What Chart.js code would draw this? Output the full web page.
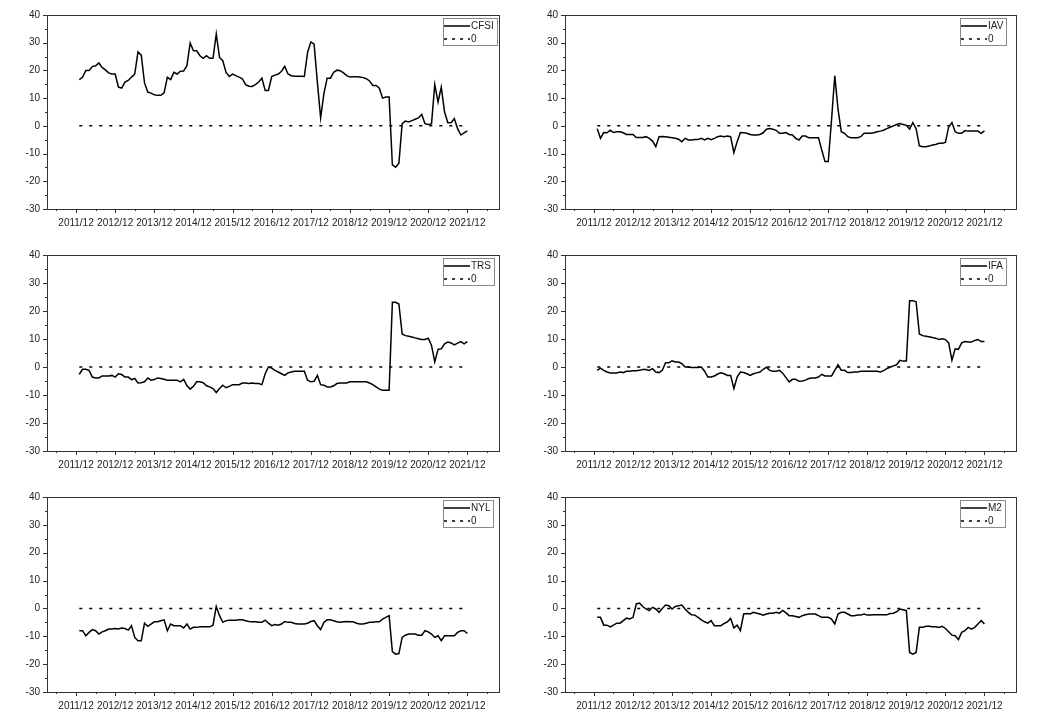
<!DOCTYPE html>
<html>
<head>
<meta charset="utf-8">
<script src="https://cdn.jsdelivr.net/npm/chart.js@4.4.1/dist/chart.umd.min.js"></script>
<style>
  body { margin: 0; background: #fff; }
  canvas { position: absolute; }
</style>
</head>
<body>
<canvas id="p0"></canvas>
<canvas id="p1"></canvas>
<canvas id="p2"></canvas>
<canvas id="p3"></canvas>
<canvas id="p4"></canvas>
<canvas id="p5"></canvas>
<script>
// monthly values, 2012/01 .. 2021/12
const CFSI = [
  16.7, 17.5, 20, 20, 21.4, 21.7, 22.7, 21.1, 20.2, 19.1,
  18.7, 18.7, 14, 13.6, 15.8, 16.4, 17.6, 18.7, 26.7, 25.5,
  15.5, 12.2, 11.8, 11.2, 11, 11, 11.9, 17.5, 16.7, 19.3,
  18.7, 19.7, 19.8, 21.7, 29.9, 27.1, 27.1, 25.3, 24.4, 25.3,
  24.4, 24.4, 33.1, 24.7, 23.5, 19.3, 17.8, 18.7, 18.1, 17.6,
  17, 14.9, 14.3, 14.2, 14.9, 15.8, 17.2, 12.8, 12.8, 17.8,
  18.3, 18.7, 19.7, 21.5, 18.7, 18.1, 17.9, 17.9, 17.9, 17.8,
  26.5, 30.3, 29.5, 15.8, 2.9, 11.6, 17.2, 17.2, 19.3, 20.1,
  19.9, 19.1, 18.1, 17.6, 17.7, 17.7, 17.6, 17.4, 17, 16.2,
  14.6, 14.6, 13.6, 10, 10.4, 10.4, -14.1, -14.9, -13.5, 0.8,
  1.7, 1.4, 1.9, 2.4, 2.9, 4.1, 0.8, 0.5, 0.7, 14.9,
  8.6, 14, 5, 1.1, 1.1, 2.6, -1, -3.3, -2.5, -1.8
];
const IAV = [
  -1, -4.5, -2.4, -2.5, -1.6, -2.4, -2.1, -2.1, -2.5, -3.1,
  -3.1, -3.1, -4.2, -4.2, -4.2, -3.9, -4.5, -5.5, -7.5, -3.9,
  -3.8, -3.9, -4.1, -4.3, -4.5, -4.8, -5.7, -4.5, -5.1, -5.1,
  -4.9, -4.9, -4.5, -5.1, -4.5, -5, -4.5, -3.9, -3.7, -3.9,
  -3.7, -3.9, -9.7, -5.7, -2.4, -2.5, -2.7, -3.1, -3.3, -3.3,
  -3.1, -2.5, -1.2, -1, -1.2, -1.6, -2.7, -2.7, -2.4, -3.1,
  -3.3, -4.5, -5.1, -3.7, -3.7, -4.3, -4.3, -4.3, -4.3, -8.7,
  -12.9, -12.9, 2, 18.1, 6, -2.1, -2.7, -3.9, -4.3, -4.3,
  -4.3, -3.9, -2.7, -2.7, -2.7, -2.5, -2.1, -1.9, -1.6, -1,
  -0.5, 0, 0.5, 0.8, 0.5, 0.2, -1.2, 1.2, -1, -7.2,
  -7.5, -7.5, -7.3, -6.9, -6.7, -6.3, -6.3, -6, -0.4, 1.2,
  -2.1, -2.7, -2.7, -1.7, -1.9, -1.9, -1.9, -1.9, -2.7, -1.8
];
const TRS = [
  -2.6, -0.8, -0.8, -1.2, -3.6, -3.9, -3.9, -3.2, -3.2, -3.2,
  -3, -3.6, -2.4, -2.7, -3.6, -3.6, -4.5, -4.1, -5.7, -5.6,
  -5.3, -3.9, -4.7, -4.5, -3.9, -4.1, -4.4, -4.7, -4.7, -4.7,
  -4.7, -5.3, -4.4, -6.6, -7.9, -6.9, -5.3, -5.3, -5.6, -6.7,
  -7.1, -7.7, -9.1, -7.7, -6.5, -7.4, -6.9, -6.3, -6.3, -6.3,
  -5.7, -5.7, -5.9, -5.7, -5.9, -5.9, -6.3, -2.4, 0, -0.4,
  -1.2, -1.8, -2.4, -3, -2.1, -1.8, -1.5, -1.5, -1.5, -1.5,
  -4.7, -5.3, -5.1, -3, -6.3, -6.5, -7.1, -7.1, -6.7, -5.9,
  -5.7, -5.7, -5.7, -5.3, -5.3, -5.3, -5.3, -5.3, -5.3, -5.7,
  -6.3, -7.1, -7.9, -8.3, -8.3, -8.3, 23.1, 23.1, 22.5, 11.8,
  11.2, 11, 10.7, 10.4, 10.1, 9.8, 9.8, 10.3, 7.7, 1.8,
  6.3, 6.5, 8.3, 8.9, 8.6, 7.9, 8.5, 9.1, 8.3, 9.1
];
const IFA = [
  -1.2, -0.4, -1.2, -1.8, -2.1, -2.1, -2.1, -1.8, -2, -1.5,
  -1.5, -1.3, -1.3, -1.2, -0.9, -0.9, -1.2, -0.6, -1.8, -2,
  -1.2, 1.5, 1.5, 2.2, 1.8, 1.8, 1.2, 0, 0, -0.2,
  -0.2, -0.2, 0, -1.5, -3.6, -3.6, -3.2, -2.5, -2.1, -2.4,
  -3, -3, -7.7, -3.6, -1.8, -2, -2.4, -3, -2.4, -2.1,
  -1.8, -0.8, -0.1, -1.2, -1.5, -1.5, -1.2, -2.2, -3.8, -5.3,
  -4.4, -4.4, -5.1, -5, -4.7, -4.1, -3.9, -3.9, -3.6, -2.6,
  -3.2, -3.2, -3.2, -1.2, 0.8, -1.2, -1.2, -2, -2, -1.8,
  -1.8, -1.5, -1.5, -1.5, -1.5, -1.5, -1.5, -1.8, -1.3, -0.6,
  -0.1, 0.4, 0.8, 2.4, 2.1, 2.1, 23.7, 23.7, 23.3, 11.8,
  11.2, 11, 10.8, 10.5, 10.3, 9.8, 10.1, 9.8, 8.6, 2.4,
  6.5, 6.3, 8.6, 9.1, 8.9, 8.9, 9.5, 9.8, 9.1, 9.1
];
const NYL = [
  -8, -8, -9.8, -8.6, -7.6, -8, -9.2, -8.4, -8, -7.4,
  -7.4, -7.2, -7.4, -7, -7.2, -7.8, -6.2, -10.4, -11.6, -11.6,
  -5.3, -6.4, -5.6, -4.8, -4.8, -4.4, -4.1, -8, -5.6, -6.2,
  -6.2, -6.2, -7, -5.6, -7.4, -6.8, -6.8, -6.6, -6.6, -6.6,
  -6.6, -6, 0.7, -2.6, -5, -4.4, -4.2, -4.2, -4.2, -4.1,
  -4.1, -4.4, -4.7, -4.8, -4.8, -5, -5, -4.2, -5.3, -6.2,
  -5.8, -6, -5.6, -4.7, -5, -5, -5.4, -5.6, -5.6, -5.6,
  -5.3, -4.7, -4.4, -6.2, -7.6, -5, -4.1, -4.1, -4.4, -4.8,
  -5, -4.8, -4.7, -4.8, -4.8, -5.3, -5.6, -5.6, -5.3, -5,
  -5, -4.8, -4.8, -3.8, -3.2, -2.6, -15.5, -16.4, -16.2, -10.4,
  -9.6, -9.2, -9.2, -9.2, -9.6, -9.6, -8, -8.4, -9.2, -10.4,
  -9.8, -11.6, -9.8, -9.8, -9.8, -9.8, -8.6, -8, -8, -9
];
const M2 = [
  -3.2, -3.2, -6, -6, -6.6, -6, -5.3, -5.3, -4.4, -3.5,
  -3.8, -3.2, 1.6, 1.9, 0.7, -0.2, -0.8, 0.4, -0.2, -1.4,
  0, 1.2, 1, -0.2, 0.7, 1, 1.2, -0.2, -1.4, -2.3,
  -2.4, -3.2, -4.1, -4.8, -5.3, -4.4, -6.2, -6.2, -6.2, -5.4,
  -4.8, -3.6, -7, -6, -8, -2, -1.8, -2, -1.4, -1.7,
  -2, -2.4, -2, -1.7, -1.7, -1.4, -1.7, -0.7, -1.6, -2.6,
  -2.6, -2.9, -3.2, -2.6, -2.3, -2, -2, -2, -2.6, -3.2,
  -3.2, -3.2, -3.8, -5.6, -2, -1.4, -1.4, -2, -2.6, -2.6,
  -2.4, -2.4, -2, -2.4, -2.4, -2.3, -2.3, -2.3, -2.3, -2.3,
  -1.8, -1.7, -1.2, -0.2, -0.5, -0.8, -15.8, -16.4, -15.8, -6.8,
  -6.8, -6.4, -6.4, -6.6, -6.6, -6.8, -6.4, -7.2, -8.4, -9.6,
  -9.8, -11.2, -8.6, -8, -6.8, -7.4, -6.8, -5.6, -4.4, -5.6
];

const NAMES = ['CFSI', 'IAV', 'TRS', 'IFA', 'NYL', 'M2'];
const SERIES = [CFSI, IAV, TRS, IFA, NYL, M2];
const X_LABELS = ['2011/12', '2012/12', '2013/12', '2014/12', '2015/12', '2016/12',
                  '2017/12', '2018/12', '2019/12', '2020/12', '2021/12'];
const X_TICKS = [0, 12, 24, 36, 48, 60, 72, 84, 96, 108, 120];   // months after 2011/12
const Y_TICKS = [-30, -20, -10, 0, 10, 20, 30, 40];
const ZERO = [{x: 1, y: 0}, {x: 120, y: 0}];

// plot boxes on the page
const COL_L = [47, 565], COL_R = [500, 1017];
const ROW_T = [14, 254, 496], ROW_B = [209, 451, 692];

Chart.defaults.font.family = '"Liberation Sans", Arial, sans-serif';
Chart.defaults.font.size = 10;
Chart.defaults.color = '#222';

const framePlugin = {
  id: 'frame',
  afterDraw(chart) {
    const ctx = chart.ctx, a = chart.chartArea;
    const xs = chart.scales.x, ys = chart.scales.y;
    ctx.save();
    ctx.strokeStyle = '#333';
    ctx.lineWidth = 1;
    ctx.strokeRect(a.left + 0.5, a.top + 0.5, a.right - a.left - 1, a.bottom - a.top);
    ctx.beginPath();
    for (let v = -30; v <= 40; v += 5) {
      const y = Math.round(ys.getPixelForValue(v)) + 0.5;
      const len = v % 10 === 0 ? 4 : 2;
      ctx.moveTo(a.left - len, y); ctx.lineTo(a.left, y);
    }
    for (let m = -6; m <= 126; m += 6) {
      const x = Math.round(xs.getPixelForValue(m)) + 0.5;
      const len = m % 12 === 0 ? 4 : 2;
      ctx.moveTo(x, a.bottom); ctx.lineTo(x, a.bottom + len);
    }
    ctx.stroke();

    // legend box in the top right corner
    const name = chart.data.datasets[0].label;
    ctx.font = '10px "Liberation Sans", Arial, sans-serif';
    const lx = a.right - 57, ly = a.top + 3;
    const w = Math.round(31 + ctx.measureText(name).width);
    ctx.strokeStyle = '#8a8a8a';
    ctx.strokeRect(lx + 0.5, ly + 0.5, w, 27);
    ctx.strokeStyle = '#000';
    ctx.lineWidth = 1.5;
    ctx.beginPath(); ctx.moveTo(lx + 1, ly + 8); ctx.lineTo(lx + 27, ly + 8); ctx.stroke();
    ctx.setLineDash([3, 5]);
    ctx.beginPath(); ctx.moveTo(lx + 1, ly + 21); ctx.lineTo(lx + 27, ly + 21); ctx.stroke();
    ctx.setLineDash([]);
    ctx.fillStyle = '#222';
    ctx.textBaseline = 'middle';
    ctx.fillText(name, lx + 28, ly + 8);
    ctx.fillText('0', lx + 28, ly + 21);
    ctx.restore();
  }
};

function makePanel(i) {
  const col = i % 2, row = Math.floor(i / 2);
  const canvas = document.getElementById('p' + i);
  const left = col === 0 ? 0 : 518;
  const top = ROW_T[row] - 12;
  canvas.width = COL_R[col] + 12 - left;
  canvas.height = ROW_B[row] + 24 - top;
  canvas.style.left = left + 'px';
  canvas.style.top = top + 'px';

  new Chart(canvas, {
    type: 'line',
    data: {
      datasets: [{
        label: NAMES[i],
        data: SERIES[i].map((v, k) => ({x: k + 1, y: v})),
        borderColor: '#000',
        borderWidth: 1.5,
        pointRadius: 0,
        tension: 0
      }, {
        label: '0',
        data: ZERO,
        borderColor: '#000',
        borderWidth: 1.5,
        borderDash: [3, 7],
        pointRadius: 0
      }]
    },
    options: {
      responsive: false,
      animation: false,
      layout: { padding: { top: 0, right: 12, left: 0, bottom: 0 } },
      plugins: { legend: { display: false }, tooltip: { enabled: false } },
      scales: {
        x: {
          type: 'linear', min: -8.9, max: 130,
          afterBuildTicks: s => { s.ticks = X_TICKS.map(v => ({value: v})); },
          afterFit: s => { s.height = 24; },
          ticks: { callback: (v, k) => X_LABELS[k], padding: 8, maxRotation: 0, autoSkip: false },
          grid: { display: false, drawTicks: false },
          border: { display: false }
        },
        y: {
          min: -30, max: 40,
          afterBuildTicks: s => { s.ticks = Y_TICKS.map(v => ({value: v})); },
          afterFit: s => { s.width = 47; },
          ticks: { padding: 7 },
          grid: { display: false, drawTicks: false },
          border: { display: false }
        }
      }
    },
    plugins: [framePlugin]
  });
}

for (let i = 0; i < 6; i++) makePanel(i);
</script>
</body>
</html>
